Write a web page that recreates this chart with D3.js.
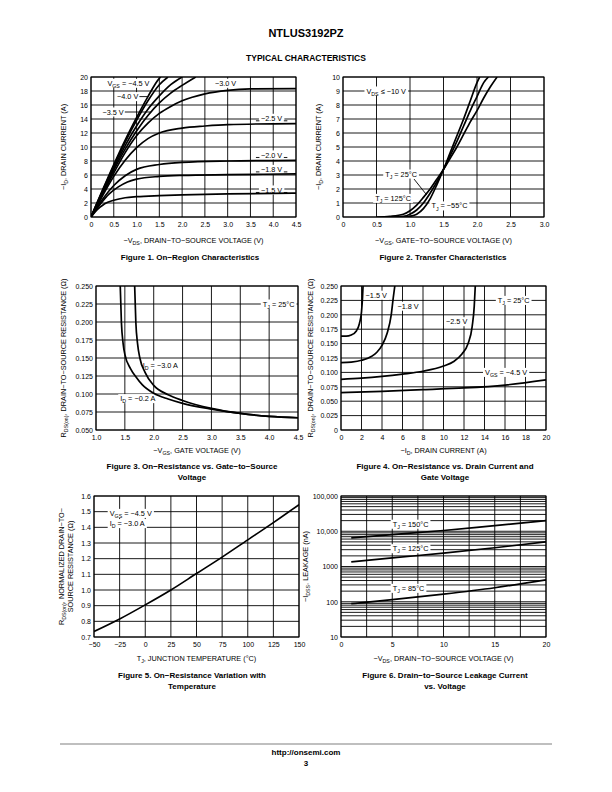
<!DOCTYPE html>
<html><head><meta charset="utf-8">
<script src="https://cdn.jsdelivr.net/npm/d3@7"></script>
<style>body{margin:0;background:#fff}svg{display:block}</style>
</head><body><svg id="page" width="612" height="792"></svg>
<script>
// ---------------- DATA ----------------
// Figure 1: On-Region Characteristics  [-VDS (V), -ID (A)]
const fig1VgsTop = [[0,0],[0.25,3.8],[0.5,7.5],[0.75,11.0],[1.0,14.2],[1.25,17.2],[1.5,19.8],[1.53,20]];
const fig1Vgs45 = [[0,0],[0.25,3.7],[0.5,7.3],[0.75,10.7],[1.0,13.8],[1.25,16.6],[1.5,18.9],[1.69,20]];
const fig1Vgs40 = [[0,0],[0.25,3.6],[0.5,7.0],[0.75,10.2],[1.0,13.0],[1.25,15.4],[1.5,17.3],[1.75,18.9],[2.0,20]];
const fig1Vgs35 = [[0,0],[0.25,3.4],[0.5,6.7],[0.75,9.7],[1.0,12.3],[1.25,14.5],[1.5,16.3],[1.75,17.7],[2.0,18.8],[2.3,20]];
const fig1Vgs30 = [[0,0],[0.25,3.2],[0.5,6.3],[0.75,9.2],[1.0,11.6],[1.25,13.4],[1.5,14.8],[1.75,15.8],[2.0,16.6],[2.5,17.6],[3.0,18.1],[3.5,18.3],[4.5,18.35]];
const fig1Vgs25 = [[0,0],[0.25,3.0],[0.5,5.8],[0.75,8.1],[1.0,9.9],[1.25,11.2],[1.5,12.0],[2.0,12.7],[2.5,13.0],[3.0,13.2],[4.5,13.35]];
const fig1Vgs20 = [[0,0],[0.25,2.5],[0.5,4.5],[0.75,5.9],[1.0,6.8],[1.5,7.5],[2.0,7.8],[3.0,8.0],[4.5,8.1]];
const fig1Vgs18 = [[0,0],[0.2,1.8],[0.4,3.3],[0.6,4.3],[0.8,5.0],[1.0,5.4],[1.5,5.8],[2.0,5.95],[3.0,6.05],[4.5,6.15]];
const fig1Vgs15 = [[0,0],[0.1,0.8],[0.2,1.4],[0.3,1.9],[0.5,2.4],[0.75,2.75],[1.0,2.9],[1.5,3.05],[2.0,3.15],[3.0,3.3],[4.5,3.4]];
const fig1XTicks = [0,0.5,1.0,1.5,2.0,2.5,3.0,3.5,4.0,4.5];
const fig1YTicks = [0,2,4,6,8,10,12,14,16,18,20];

// Figure 2: Transfer Characteristics [-VGS (V), -ID (A)]
const fig2Tm55 = [[0.9,0],[1.0,0.05],[1.1,0.2],[1.2,0.6],[1.3,1.3],[1.4,2.3],[1.5,3.4],[1.6,4.6],[1.7,5.8],[1.8,7.0],[1.9,8.3],[2.0,9.6],[2.04,10]];
const fig2T25 = [[0.7,0],[0.9,0.05],[1.0,0.2],[1.1,0.5],[1.2,1.0],[1.3,1.7],[1.4,2.5],[1.5,3.4],[1.6,4.4],[1.7,5.4],[1.8,6.5],[1.9,7.6],[2.0,8.6],[2.1,9.6],[2.17,10]];
const fig2T125 = [[0.5,0],[0.7,0.05],[0.9,0.2],[1.0,0.45],[1.1,0.85],[1.2,1.4],[1.3,2.0],[1.4,2.7],[1.5,3.4],[1.6,4.2],[1.7,5.0],[1.8,5.9],[1.9,6.8],[2.0,7.6],[2.1,8.5],[2.2,9.3],[2.3,10.0]];
const fig2XTicks = [0,0.5,1.0,1.5,2.0,2.5,3.0];
const fig2YTicks = [0,1,2,3,4,5,6,7,8,9,10];

// Figure 3: RDS(on) vs VGS [-VGS (V), R (ohm)]
const fig3Id02 = [[1.42,0.25],[1.44,0.2],[1.47,0.17],[1.5,0.155],[1.6,0.135],[1.7,0.123],[1.8,0.113],[2.0,0.101],[2.25,0.093],[2.5,0.087],[3.0,0.079],[3.5,0.073],[4.0,0.069],[4.5,0.067]];
const fig3Id30 = [[1.67,0.25],[1.69,0.2],[1.72,0.17],[1.76,0.15],[1.85,0.13],[2.0,0.112],[2.25,0.099],[2.5,0.091],[3.0,0.080],[3.5,0.073],[4.0,0.069],[4.5,0.067]];
const fig3XTicks = [1.0,1.5,2.0,2.5,3.0,3.5,4.0,4.5];
const fig3YTicks = [0.050,0.075,0.100,0.125,0.150,0.175,0.200,0.225,0.250];

// Figure 4: RDS(on) vs ID [-ID (A), R (ohm)]
const fig4Vgs15 = [[0,0.163],[0.5,0.163],[1.0,0.165],[1.5,0.172],[1.8,0.185],[2.0,0.205],[2.1,0.23],[2.15,0.25]];
const fig4Vgs18 = [[0,0.117],[1,0.118],[2,0.121],[3,0.128],[3.5,0.135],[4,0.147],[4.5,0.168],[4.9,0.2],[5.1,0.23],[5.25,0.25]];
const fig4Vgs25 = [[0,0.088],[2,0.09],[4,0.093],[6,0.097],[8,0.102],[10,0.111],[11,0.119],[11.8,0.132],[12.4,0.15],[12.8,0.18],[13.0,0.215],[13.1,0.25]];
const fig4Vgs45 = [[0,0.065],[4,0.067],[8,0.07],[12,0.073],[16,0.078],[20,0.087]];
const fig4XTicks = [0,2,4,6,8,10,12,14,16,18,20];
const fig4YTicks = [0,0.025,0.050,0.075,0.100,0.125,0.150,0.175,0.200,0.225,0.250];

// Figure 5: Normalized RDS(on) vs TJ
const fig5Curve = [[-50,0.735],[-25,0.815],[0,0.905],[25,1.0],[50,1.105],[75,1.21],[100,1.32],[125,1.43],[150,1.545]];
const fig5XTicks = [-50,-25,0,25,50,75,100,125,150];
const fig5YTicks = [0.7,0.8,0.9,1.0,1.1,1.2,1.3,1.4,1.5,1.6];

// Figure 6: Leakage vs VDS [V, nA]
const fig6T150 = [[1,6500],[5,8000],[10,10500],[15,14500],[20,20000]];
const fig6T125 = [[1,1350],[5,1750],[10,2400],[15,3400],[20,5000]];
const fig6T85 = [[1,88],[5,115],[10,165],[15,250],[20,420]];
const fig6XTicks = [0,5,10,15,20];
const fig6XGrid = [0,2.5,5,7.5,10,12.5,15,17.5,20];
const fig6YTicks = [10,100,1000,10000,100000];

// ---------------- DRAWING ----------------
const FONT = '"Liberation Sans", Arial, Helvetica, sans-serif';
const TICK_FS = 7;
const svg = d3.select('#page');
svg.append('rect').attr('width',612).attr('height',792).attr('fill','#fff');

function rich(sel, str, fs) {
  let sub = false;
  str.split(/(_\{[^}]*\})/).forEach(p => {
    if (!p) return;
    if (p.startsWith('_{')) {
      sel.append('tspan').attr('font-size', fs*0.72).attr('dy', fs*0.28).text(p.slice(2,-1));
      sub = true;
    } else {
      const t = sel.append('tspan').text(p);
      if (sub) { t.attr('dy', -fs*0.28); sub = false; }
    }
  });
  return sel;
}
function txt(x, y, str, opt={}) {
  const fs = opt.fs || 7.3;
  const t = svg.append('text').attr('x', x).attr('y', y)
    .attr('font-family', FONT).attr('font-size', fs)
    .attr('font-weight', opt.bold ? 'bold' : 'normal')
    .attr('text-anchor', opt.anchor || 'middle').attr('fill','#000');
  if (opt.rotate) t.attr('transform', `rotate(-90,${x},${y})`);
  return rich(t, str, fs);
}

let clipN = 0;
function drawChart(c) {
  const g = svg.append('g');
  const x = d3.scaleLinear().domain(c.xDomain).range([c.left, c.right]);
  const y = (c.yLog ? d3.scaleLog() : d3.scaleLinear()).domain(c.yDomain).range([c.bottom, c.top]);
  const cid = 'clip' + (clipN++);
  g.append('clipPath').attr('id', cid).append('rect')
    .attr('x', c.left).attr('y', c.top).attr('width', c.right - c.left).attr('height', c.bottom - c.top);
  g.append('g').selectAll('line').data(c.xGrid).join('line')
    .attr('x1', d => x(d)).attr('x2', d => x(d)).attr('y1', c.top).attr('y2', c.bottom)
    .attr('stroke', '#000').attr('stroke-width', 0.9);
  g.append('g').selectAll('line').data(c.yGrid).join('line')
    .attr('y1', d => y(d)).attr('y2', d => y(d)).attr('x1', c.left).attr('x2', c.right)
    .attr('stroke', '#000').attr('stroke-width', 0.9);
  const boxLayer = g.append('g');
  const line = d3.line().x(d => x(d[0])).y(d => y(d[1])).curve(d3.curveMonotoneX);
  g.append('g').attr('clip-path', `url(#${cid})`).selectAll('path').data(c.series).join('path')
    .attr('d', d => line(d)).attr('fill', 'none').attr('stroke', '#000').attr('stroke-width', 1.7);
  g.append('rect').attr('x', c.left).attr('y', c.top).attr('width', c.right - c.left).attr('height', c.bottom - c.top)
    .attr('fill', 'none').attr('stroke', '#000').attr('stroke-width', 1);
  // labels
  const fs = 7.3;
  (c.labels || []).forEach(L => {
    const px = x(L.x), py = y(L.y);
    const t = g.append('text').attr('x', px).attr('y', py + fs*0.35)
      .attr('font-family', FONT).attr('font-size', fs).attr('fill', '#000');
    rich(t, L.t, fs);
    const bb = t.node().getBBox();
    boxLayer.append('rect').attr('x', bb.x - 2).attr('y', py - fs*0.62).attr('width', bb.width + 4).attr('height', fs*1.24)
      .attr('fill', '#fff');
    if (L.lead !== undefined) {
      g.append('line').attr('x1', bb.x + bb.width + 1).attr('x2', x(L.lead)).attr('y1', py).attr('y2', py)
        .attr('stroke', '#000').attr('stroke-width', 0.9);
    }
    if (L.dash) {
      [[bb.x - 5, bb.x - 1.5], [bb.x + bb.width + 1.5, bb.x + bb.width + 5]].forEach(s =>
        g.append('line').attr('x1', s[0]).attr('x2', s[1]).attr('y1', py + 2.5).attr('y2', py + 2.5)
          .attr('stroke', '#000').attr('stroke-width', 0.9));
    }
  });
  (c.arrows || []).forEach(a => {
    g.append('line').attr('x1', x(a[0])).attr('y1', y(a[1])).attr('x2', x(a[2])).attr('y2', y(a[3]))
      .attr('stroke', '#000').attr('stroke-width', 0.9);
  });
  // axes
  const xa = g.append('g').attr('transform', `translate(0,${c.bottom})`)
    .call(d3.axisBottom(x).tickValues(c.xTicks).tickFormat(c.xFmt).tickSize(0).tickPadding(5));
  xa.select('.domain').remove();
  xa.attr('font-family', FONT).attr('font-size', TICK_FS);
  const ya = g.append('g').attr('transform', `translate(${c.left},0)`)
    .call(d3.axisLeft(y).tickValues(c.yTicks).tickFormat(c.yFmt).tickSize(0).tickPadding(3));
  ya.select('.domain').remove();
  ya.attr('font-family', FONT).attr('font-size', TICK_FS);
  g.selectAll('.tick text').attr('fill', '#000');
  // titles
  const cx = (c.left + c.right) / 2, cy = (c.top + c.bottom) / 2;
  txt(cx, c.xTitleY, c.xTitle);
  c.yTitle.forEach((s, i) => txt(c.yTitleX + i * 9 + 2.5, cy, s, {rotate: true}));
  c.caption.forEach((s, i) => txt(c.capX, c.capY + i * 11, s, {bold: true, fs: 8}));
}

const f1 = d => d === 0 ? '0' : d3.format('.1f')(d);
const fInt = d3.format('d');

// header
txt(306, 37, 'NTLUS3192PZ', {bold: true, fs: 11});
txt(306, 61, 'TYPICAL CHARACTERISTICS', {bold: true, fs: 8.5});

drawChart({
  left: 91, right: 296, top: 77, bottom: 217,
  xDomain: [0, 4.5], yDomain: [0, 20],
  xGrid: fig1XTicks, yGrid: fig1YTicks, xTicks: fig1XTicks, yTicks: fig1YTicks, xFmt: f1, yFmt: fInt,
  series: [fig1VgsTop, fig1Vgs45, fig1Vgs40, fig1Vgs35, fig1Vgs30, fig1Vgs25, fig1Vgs20, fig1Vgs18, fig1Vgs15],
  labels: [
    {t: 'V_{GS} = −4.5 V', x: 0.36, y: 19.1},
    {t: '−4.0 V', x: 0.57, y: 17.2, lead: 1.25},
    {t: '−3.5 V', x: 0.25, y: 15.0, lead: 1.31},
    {t: '−3.0 V', x: 2.72, y: 19.1},
    {t: '−2.5 V', x: 3.73, y: 14.1, dash: true},
    {t: '−2.0 V', x: 3.73, y: 8.86, dash: true},
    {t: '−1.8 V', x: 3.73, y: 6.8, dash: true},
    {t: '−1.5 V', x: 3.73, y: 3.86, dash: true}
  ],
  xTitle: '−V_{DS}, DRAIN−TO−SOURCE VOLTAGE (V)', xTitleY: 242.5,
  yTitle: ['−I_{D}, DRAIN CURRENT (A)'], yTitleX: 63,
  caption: ['Figure 1. On−Region Characteristics'], capX: 190, capY: 260
});

drawChart({
  left: 343, right: 544, top: 77, bottom: 217,
  xDomain: [0, 3], yDomain: [0, 10],
  xGrid: fig2XTicks, yGrid: fig2YTicks, xTicks: fig2XTicks, yTicks: fig2YTicks, xFmt: f1, yFmt: fInt,
  series: [fig2Tm55, fig2T25, fig2T125],
  labels: [
    {t: 'V_{DS} ≤ −10 V', x: 0.35, y: 9.0},
    {t: 'T_{J} = 25°C', x: 0.63, y: 3.07},
    {t: 'T_{J} = 125°C', x: 0.48, y: 1.33},
    {t: 'T_{J} = −55°C', x: 1.32, y: 0.79}
  ],
  arrows: [[1.06, 2.71, 1.25, 1.57]],
  xTitle: '−V_{GS}, GATE−TO−SOURCE VOLTAGE (V)', xTitleY: 242.5,
  yTitle: ['−I_{D}, DRAIN CURRENT (A)'], yTitleX: 318,
  caption: ['Figure 2. Transfer Characteristics'], capX: 443, capY: 260
});

drawChart({
  left: 96, right: 298, top: 286, bottom: 430,
  xDomain: [1, 4.5], yDomain: [0.05, 0.25],
  xGrid: fig3XTicks, yGrid: fig3YTicks, xTicks: fig3XTicks, yTicks: fig3YTicks,
  xFmt: d3.format('.1f'), yFmt: d3.format('.3f'),
  series: [fig3Id02, fig3Id30],
  labels: [
    {t: 'I_{D} = −3.0 A', x: 1.81, y: 0.1402},
    {t: 'I_{D} = −0.2 A', x: 1.42, y: 0.0936},
    {t: 'T_{J} = 25°C', x: 3.89, y: 0.225}
  ],
  xTitle: '−V_{GS}, GATE VOLTAGE (V)', xTitleY: 452.5,
  yTitle: ['R_{DS(on)}, DRAIN−TO−SOURCE RESISTANCE (Ω)'], yTitleX: 63,
  caption: ['Figure 3. On−Resistance vs. Gate−to−Source', 'Voltage'], capX: 192, capY: 469
});

drawChart({
  left: 341, right: 546, top: 286, bottom: 430,
  xDomain: [0, 20], yDomain: [0, 0.25],
  xGrid: fig4XTicks, yGrid: fig4YTicks, xTicks: fig4XTicks, yTicks: fig4YTicks,
  xFmt: fInt, yFmt: d => d === 0 ? '0' : d3.format('.3f')(d),
  series: [fig4Vgs15, fig4Vgs18, fig4Vgs25, fig4Vgs45],
  labels: [
    {t: '−1.5 V', x: 2.4, y: 0.234},
    {t: '−1.8 V', x: 5.5, y: 0.215},
    {t: '−2.5 V', x: 10.24, y: 0.188},
    {t: 'T_{J} = 25°C', x: 15.3, y: 0.225},
    {t: 'V_{GS} = −4.5 V', x: 14.05, y: 0.1}
  ],
  xTitle: '−I_{D}, DRAIN CURRENT (A)', xTitleY: 452.5,
  yTitle: ['R_{DS(on)}, DRAIN−TO−SOURCE RESISTANCE (Ω)'], yTitleX: 310,
  caption: ['Figure 4. On−Resistance vs. Drain Current and', 'Gate Voltage'], capX: 445, capY: 469
});

drawChart({
  left: 94, right: 299, top: 496, bottom: 637,
  xDomain: [-50, 150], yDomain: [0.7, 1.6],
  xGrid: fig5XTicks, yGrid: fig5YTicks, xTicks: fig5XTicks, yTicks: fig5YTicks,
  xFmt: fInt, yFmt: d3.format('.1f'),
  series: [fig5Curve],
  labels: [
    {t: 'V_{GS} = −4.5 V', x: -34.7, y: 1.489},
    {t: 'I_{D} = −3.0 A', x: -34.7, y: 1.424}
  ],
  xTitle: 'T_{J}, JUNCTION TEMPERATURE (°C)', xTitleY: 660.5,
  yTitle: ['R_{DS(on)}, NORMALIZED DRAIN−TO−', 'SOURCE RESISTANCE (Ω)'], yTitleX: 61,
  caption: ['Figure 5. On−Resistance Variation with', 'Temperature'], capX: 192, capY: 678
});

const fig6YGrid = [];
fig6YTicks.forEach(dec => { for (let m = 1; m <= 9; m++) { const v = dec * m; if (v <= 100000) fig6YGrid.push(v); } });
drawChart({
  left: 341, right: 546, top: 496, bottom: 637,
  xDomain: [0, 20], yDomain: [10, 100000], yLog: true,
  xGrid: fig6XGrid, yGrid: fig6YGrid, xTicks: fig6XTicks, yTicks: fig6YTicks,
  xFmt: fInt, yFmt: d => d >= 10000 ? d3.format(',')(d) : String(d),
  series: [fig6T150, fig6T125, fig6T85],
  labels: [
    {t: 'T_{J} = 150°C', x: 5.04, y: 15850},
    {t: 'T_{J} = 125°C', x: 5.04, y: 3200},
    {t: 'T_{J} = 85°C', x: 5.04, y: 240}
  ],
  xTitle: '−V_{DS}, DRAIN−TO−SOURCE VOLTAGE (V)', xTitleY: 660.5,
  yTitle: ['−I_{DSS}, LEAKAGE (nA)'], yTitleX: 305,
  caption: ['Figure 6. Drain−to−Source Leakage Current', 'vs. Voltage'], capX: 445, capY: 678
});

// footer
svg.append('line').attr('x1', 60).attr('x2', 552).attr('y1', 744).attr('y2', 744)
  .attr('stroke', '#aaa').attr('stroke-width', 1.5);
txt(306, 755, 'http://onsemi.com', {bold: true, fs: 8});
txt(306, 766, '3', {bold: true, fs: 8});
</script></body></html>
